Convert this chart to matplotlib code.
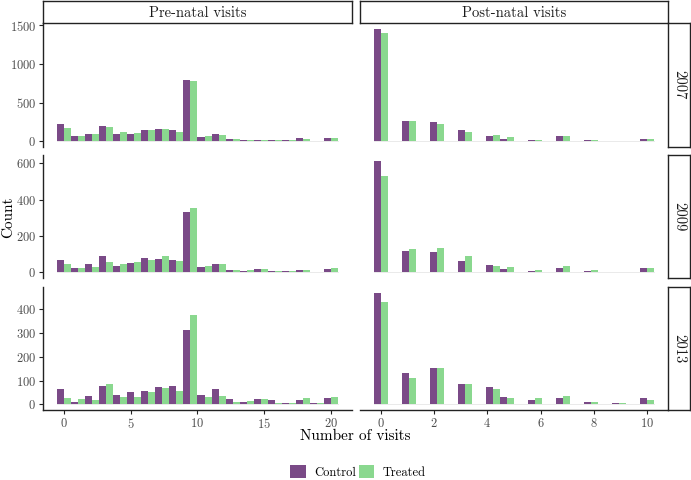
import numpy as np
import matplotlib
matplotlib.use("Agg")
import matplotlib.pyplot as plt
from matplotlib.patches import Patch

plt.rcParams['font.family'] = ['cmr10', 'DejaVu Serif']
plt.rcParams['axes.formatter.use_mathtext'] = True

years = ["2007", "2009", "2013"]
groups = ["Control", "Treated"]
columns = ["Pre-natal visits", "Post-natal visits"]

# histogram bins (20 bins each, ggplot style centres)
pre_bins = np.linspace(0, 20, 20)
post_bins = np.linspace(0, 10, 20)

pre_control_2007 = [224, 65, 99, 198, 99, 99, 147, 155, 147, 797, 56, 90, 34, 17, 17, 13, 13, 39, 4, 39]
pre_treated_2007 = [177, 73, 95, 190, 116, 112, 142, 155, 125, 780, 65, 82, 26, 17, 17, 17, 13, 30, 4, 43]
post_control_2007 = [1457, 0, 263, 0, 254, 0, 142, 0, 69, 26, 0, 22, 0, 69, 0, 17, 0, 9, 0, 26]
post_treated_2007 = [1396, 0, 259, 0, 228, 0, 125, 0, 82, 60, 0, 22, 0, 69, 0, 13, 0, 9, 0, 34]

pre_control_2009 = [69, 24, 44, 93, 36, 51, 78, 73, 67, 335, 29, 44, 13, 9, 20, 9, 7, 13, 4, 18]
pre_treated_2009 = [49, 22, 29, 60, 49, 56, 67, 93, 65, 353, 36, 45, 15, 11, 20, 9, 7, 15, 5, 27]
post_control_2009 = [616, 0, 120, 0, 115, 0, 65, 0, 40, 18, 0, 7, 0, 22, 0, 7, 0, 4, 0, 24]
post_treated_2009 = [529, 0, 129, 0, 133, 0, 89, 0, 36, 29, 0, 15, 0, 38, 0, 13, 0, 4, 0, 24]

pre_control_2013 = [64, 12, 36, 76, 41, 50, 58, 72, 77, 313, 39, 65, 21, 12, 24, 17, 8, 17, 7, 26]
pre_treated_2013 = [28, 22, 19, 87, 33, 33, 54, 68, 58, 376, 29, 37, 11, 15, 21, 8, 4, 25, 6, 32]
post_control_2013 = [469, 0, 133, 0, 151, 0, 87, 0, 73, 32, 0, 18, 0, 28, 0, 11, 0, 4, 0, 25]
post_treated_2013 = [430, 0, 109, 0, 152, 0, 84, 0, 64, 25, 0, 25, 0, 37, 0, 11, 0, 8, 0, 19]

pre_data = [(pre_control_2007, pre_treated_2007),
            (pre_control_2009, pre_treated_2009),
            (pre_control_2013, pre_treated_2013)]
post_data = [(post_control_2007, post_treated_2007),
             (post_control_2009, post_treated_2009),
             (post_control_2013, post_treated_2013)]

y_ticks = [[0, 500, 1000, 1500], [0, 200, 400, 600], [0, 100, 200, 300, 400]]
pre_xticks = [0, 5, 10, 15, 20]
post_xticks = [0, 2, 4, 6, 8, 10]

purple = "#7a4a87"
green = "#8ad88f"
tick_grey = "#4d4d4d"

W, H = 691, 480
fig = plt.figure(figsize=(W / 100, H / 100), dpi=100)


def box(x0, y0, x1, y1):
    # pixel box (top-left origin) -> figure fraction rect
    return [x0 / W, 1 - y1 / H, (x1 - x0) / W, (y1 - y0) / H]


col_x = [(43, 352), (360, 668)]
row_y = [(23, 147), (155, 278), (287, 410)]

for r in range(3):
    rmax = max(max(pre_data[r][0]), max(pre_data[r][1]),
               max(post_data[r][0]), max(post_data[r][1]))
    for c in range(2):
        ax = fig.add_axes(box(col_x[c][0], row_y[r][0], col_x[c][1], row_y[r][1]))
        bins = pre_bins if c == 0 else post_bins
        ctrl, trt = (pre_data if c == 0 else post_data)[r]
        bw = bins[1] - bins[0]
        ax.bar(bins - bw / 4, ctrl, width=bw / 2, color=purple, linewidth=0)
        ax.bar(bins + bw / 4, trt, width=bw / 2, color=green, linewidth=0)
        ax.axhline(0, color="#e6e6e6", lw=0.6, zorder=0,
                   xmin=0.045, xmax=0.955)
        lo, hi = bins[0] - bw / 2, bins[-1] + bw / 2
        pad = 0.05 * (hi - lo)
        ax.set_xlim(lo - pad, hi + pad)
        ax.set_ylim(-0.05 * rmax, 1.05 * rmax)
        for s in ["top", "right"]:
            ax.spines[s].set_visible(False)
        ax.spines["left"].set_visible(c == 0)
        ax.spines["bottom"].set_visible(r == 2)
        for s in ["left", "bottom"]:
            ax.spines[s].set_linewidth(1.0)
            ax.spines[s].set_color("#222222")
        ax.tick_params(colors="#222222", labelcolor=tick_grey, labelsize=9,
                       length=3, width=0.8, pad=2)
        ax.set_yticks(y_ticks[r])
        if c == 1:
            ax.tick_params(axis="y", left=False, labelleft=False)
        ax.set_xticks(pre_xticks if c == 0 else post_xticks)
        if r != 2:
            ax.tick_params(axis="x", bottom=False, labelbottom=False)
        ax.patch.set_alpha(0)

# top strips
for c in range(2):
    sa = fig.add_axes(box(col_x[c][0], 0.5, col_x[c][1], 23))
    sa.set_xticks([])
    sa.set_yticks([])
    for s in sa.spines.values():
        s.set_linewidth(1.0)
        s.set_color("#222222")
    sa.text(0.5, 0.45, columns[c], ha="center", va="center", fontsize=10.5,
            color="#1a1a1a", transform=sa.transAxes)

# right strips
for r in range(3):
    sa = fig.add_axes(box(668, row_y[r][0], 690, row_y[r][1]))
    sa.set_xticks([])
    sa.set_yticks([])
    for s in sa.spines.values():
        s.set_linewidth(1.0)
        s.set_color("#222222")
    sa.text(0.5, 0.5, years[r], ha="center", va="center", fontsize=10.5,
            rotation=-90, color="#1a1a1a", transform=sa.transAxes)

fig.text(8 / W, 1 - 217 / H, "Count", rotation=90, ha="center", va="center",
         fontsize=11)
fig.text(355 / W, 1 - 436 / H, "Number of visits", ha="center", va="center",
         fontsize=11)

handles = [Patch(facecolor=purple, label=groups[0]),
           Patch(facecolor=green, label=groups[1])]
fig.legend(handles=handles, loc="center", bbox_to_anchor=(358 / W, 1 - 472 / H),
           ncol=2, frameon=False, fontsize=9, handlelength=1.25,
           handleheight=1.25, handletextpad=0.7, columnspacing=0.2)

fig.savefig("out.png", dpi=100)
